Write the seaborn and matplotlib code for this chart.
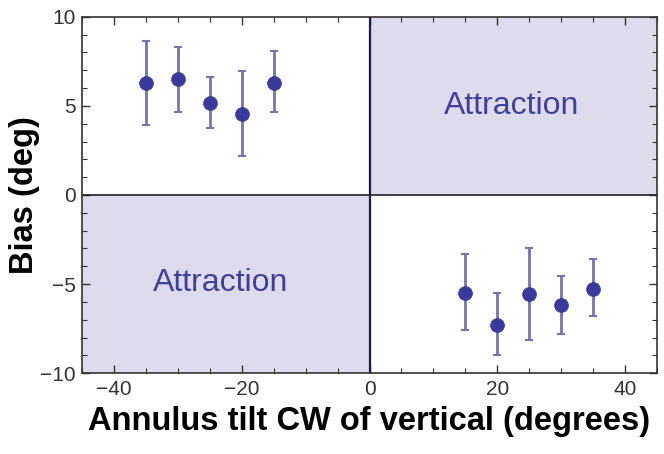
import matplotlib
matplotlib.use('Agg')
import matplotlib.pyplot as plt
import seaborn as sns
import pandas as pd
import numpy as np
from matplotlib.ticker import MultipleLocator

sns.set_style('ticks')
plt.rcParams['font.family'] = ['Liberation Sans', 'DejaVu Sans']

# valeurs
tilt = [-35, -30, -25, -20, -15, 15, 20, 25, 30, 35]
bias = [6.27, 6.5, 5.15, 4.55, 6.27, -5.49, -7.32, -5.58, -6.2, -5.3]
err_hi = [8.65, 8.28, 6.61, 6.97, 8.07, -3.33, -5.51, -3.0, -4.55, -3.6]
err_lo = [3.93, 4.68, 3.78, 2.19, 4.68, -7.55, -8.99, -8.11, -7.81, -6.8]

df = pd.DataFrame({'tilt': tilt, 'bias': bias, 'hi': err_hi, 'lo': err_lo})

SHADE = '#dcdcec'
DOT = '#3a3a9c'
BAR = '#7474b4'

fig, ax = plt.subplots(figsize=(6.64, 4.54), dpi=100)
fig.subplots_adjust(left=0.124, right=0.989, top=0.963, bottom=0.178)

ax.set_xlim(-45, 45)
ax.set_ylim(-10, 10)

# quadrants d'attraction
ax.axvspan(0, 45, ymin=0.5, ymax=1, color=SHADE, lw=0, zorder=0)
ax.axvspan(-45, 0, ymin=0, ymax=0.5, color=SHADE, lw=0, zorder=0)
ax.axhline(0, color='#222222', lw=1.2, zorder=1)
ax.axvline(0, color='#1a1a50', lw=1.6, zorder=1)

ax.errorbar(df['tilt'], df['bias'],
            yerr=[df['bias'] - df['lo'], df['hi'] - df['bias']],
            fmt='none', ecolor=BAR, elinewidth=2, capsize=3, capthick=1.5, zorder=2)
sns.scatterplot(data=df, x='tilt', y='bias', ax=ax, color=DOT, s=100,
                edgecolor=DOT, linewidth=0.5, zorder=3, legend=False)

ax.text(22.3, 5.0, 'Attraction', color='#40409c', fontsize=23, ha='center', va='center')
ax.text(-23.4, -4.95, 'Attraction', color='#40409c', fontsize=23, ha='center', va='center')

ax.xaxis.set_major_locator(MultipleLocator(20))
ax.xaxis.set_minor_locator(MultipleLocator(5))
ax.yaxis.set_major_locator(MultipleLocator(5))
ax.yaxis.set_minor_locator(MultipleLocator(1))
ax.tick_params(which='both', direction='in', top=True, right=True, color='#333333')
ax.tick_params(which='major', length=6, width=1, labelsize=15, labelcolor='#333333', pad=5)
ax.tick_params(which='minor', length=3.5, width=0.8)
ax.set_xticks([-40, -20, 0, 20, 40])
ax.set_xticklabels(['\u221240', '\u221220', '0', '20', '40'])
ax.set_yticks([-10, -5, 0, 5, 10])
ax.set_yticklabels(['\u221210', '\u22125', '0', '5', '10'])
for sp in ax.spines.values():
    sp.set_color('#333333')
    sp.set_linewidth(1.2)

ax.set_xlabel('Annulus tilt CW of vertical (degrees)', fontsize=23.5, fontweight='bold',
              labelpad=5, color='black')
ax.set_ylabel('Bias (deg)', fontsize=23.5, fontweight='bold', labelpad=0, color='black')

plt.savefig('out.png', dpi=100)
plt.close()
